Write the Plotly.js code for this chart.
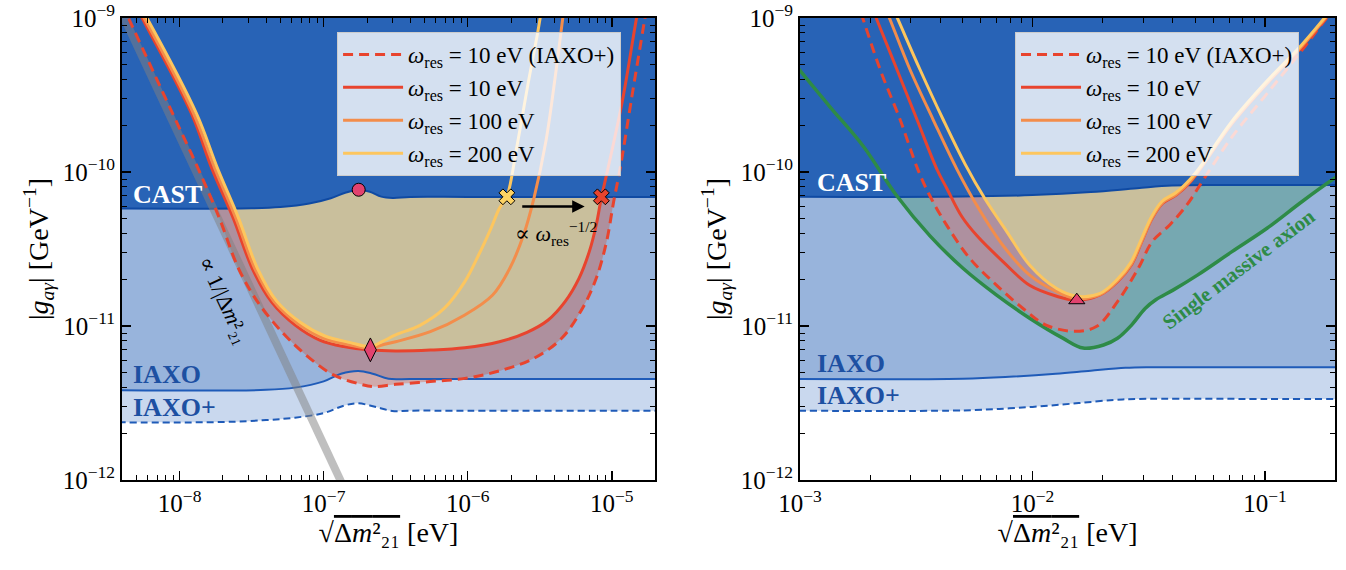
<!DOCTYPE html>
<html><head><meta charset="utf-8">
<script src="https://cdn.plot.ly/plotly-3.0.1.min.js"></script>
<style>html,body{margin:0;padding:0;background:#fff}</style>
</head><body>
<div id="chart" style="width:1346px;height:570px"></div>
<script>
// ---------------- LEFT PANEL DATA ----------------
const castL_x = [3.16e-9, 3.16e-8, 5.01e-8, 7.94e-8, 1.12e-7, 1.41e-7, 1.74e-7, 2.09e-7, 2.51e-7, 3.02e-7, 3.98e-7, 1.0e-6, 1.0e-5, 2.51e-5];
const castL_g = [5.79e-11, 5.81e-11, 5.92e-11, 6.24e-11, 6.76e-11, 7.33e-11, 7.67e-11, 7.45e-11, 6.92e-11, 6.79e-11, 6.89e-11, 6.89e-11, 6.89e-11, 6.89e-11];
const iaxoL_x = [3.16e-9, 3.98e-8, 6.31e-8, 1.0e-7, 1.32e-7, 1.74e-7, 2.19e-7, 2.82e-7, 3.98e-7, 1.0e-6, 1.0e-5, 2.51e-5];
const iaxoL_g = [3.84e-12, 3.85e-12, 3.98e-12, 4.37e-12, 4.90e-12, 5.11e-12, 4.90e-12, 4.54e-12, 4.53e-12, 4.53e-12, 4.53e-12, 4.53e-12];
const iaxoPL_x = [3.16e-9, 2.0e-8, 3.98e-8, 6.31e-8, 1.0e-7, 1.38e-7, 1.72e-7, 2.27e-7, 2.99e-7, 3.98e-7, 1.0e-6, 1.0e-5, 2.51e-5];
const iaxoPL_g = [2.37e-12, 2.38e-12, 2.45e-12, 2.54e-12, 2.72e-12, 3.04e-12, 3.15e-12, 2.99e-12, 2.81e-12, 2.82e-12, 2.82e-12, 2.82e-12, 2.82e-12];

const dashL_x = [3.98e-9, 4.49e-9, 8.95e-9, 1.34e-8, 1.89e-8, 2.56e-8, 3.47e-8, 5.11e-8, 7.52e-8, 1.17e-7, 1.82e-7, 2.21e-7, 3.16e-7, 5.50e-7, 9.55e-7, 1.66e-6, 2.88e-6, 4.49e-6, 6.25e-6, 7.80e-6, 9.20e-6, 1.03e-5, 1.14e-5, 1.38e-5, 1.67e-5, 1.84e-5];
const dashL_g = [1.23e-9, 9.66e-10, 2.39e-10, 1.06e-10, 5.00e-11, 2.37e-11, 1.44e-11, 9.18e-12, 6.49e-12, 4.81e-12, 4.18e-12, 4.04e-12, 4.18e-12, 4.36e-12, 4.57e-12, 5.11e-12, 6.17e-12, 8.32e-12, 1.30e-11, 2.04e-11, 3.53e-11, 6.41e-11, 1.04e-10, 3.10e-10, 9.06e-10, 1.52e-9];

const redL_x = [5.01e-9, 5.60e-9, 1.21e-8, 1.67e-8, 2.36e-8, 3.19e-8, 4.33e-8, 6.37e-8, 9.38e-8, 1.38e-7, 2.11e-7, 3.16e-7, 5.50e-7, 9.55e-7, 1.66e-6, 2.58e-6, 3.60e-6, 4.74e-6, 5.92e-6, 6.98e-6, 7.80e-6, 8.47e-6, 9.38e-6, 1.19e-5, 1.47e-5, 1.59e-5];
const redL_g = [1.18e-9, 9.66e-10, 2.39e-10, 1.06e-10, 5.00e-11, 2.37e-11, 1.44e-11, 1.01e-11, 8.11e-12, 7.35e-12, 6.98e-12, 6.89e-12, 6.98e-12, 7.23e-12, 7.91e-12, 9.10e-12, 1.09e-11, 1.44e-11, 2.04e-11, 3.04e-11, 4.53e-11, 6.82e-11, 1.04e-10, 2.96e-10, 9.46e-10, 1.41e-9];

const orangeL_x = [5.13e-9, 5.78e-9, 1.25e-8, 1.75e-8, 2.46e-8, 3.32e-8, 4.52e-8, 6.65e-8, 9.79e-8, 1.44e-7, 2.11e-7, 2.54e-7, 3.16e-7, 5.50e-7, 9.55e-7, 1.49e-6, 1.96e-6, 2.44e-6, 2.88e-6, 3.50e-6, 4.02e-6, 4.61e-6];
const orangeL_g = [1.17e-9, 9.66e-10, 2.39e-10, 1.06e-10, 5.00e-11, 2.37e-11, 1.44e-11, 1.03e-11, 8.39e-12, 7.60e-12, 7.16e-12, 7.53e-12, 7.91e-12, 9.18e-12, 1.18e-11, 1.59e-11, 2.37e-11, 3.90e-11, 6.75e-11, 1.61e-10, 3.94e-10, 1.07e-9];

const yellowL_x = [5.37e-9, 6.05e-9, 1.31e-8, 1.83e-8, 2.57e-8, 3.47e-8, 4.72e-8, 6.95e-8, 1.02e-7, 1.51e-7, 2.11e-7, 2.54e-7, 3.16e-7, 4.66e-7, 6.86e-7, 9.55e-7, 1.19e-6, 1.45e-6, 1.66e-6, 1.87e-6, 2.19e-6, 2.65e-6, 3.05e-6, 3.22e-6];
const yellowL_g = [1.17e-9, 9.66e-10, 2.39e-10, 1.06e-10, 5.00e-11, 2.37e-11, 1.45e-11, 1.05e-11, 8.61e-12, 7.83e-12, 7.35e-12, 7.91e-12, 8.75e-12, 1.01e-11, 1.30e-11, 1.94e-11, 2.89e-11, 4.31e-11, 5.81e-11, 6.92e-11, 1.45e-10, 3.94e-10, 7.91e-10, 1.07e-9];

const grayL_x = [3.5e-9, 2.0e-7];
const grayL_g = [1.39e-9, 4.25e-13];

const circleL = {x: [1.75e-7], g: [7.67e-11]};
const diamondL = {x: [2.11e-7], g: [7.0e-12]};
const xYellowL = {x: [1.87e-6], g: [6.9e-11]};
const xRedL = {x: [8.47e-6], g: [6.9e-11]};

// ---------------- RIGHT PANEL DATA ----------------
const castR_x = [7.94e-4, 5.01e-3, 1.0e-2, 1.78e-2, 2.82e-2, 3.98e-2, 6.31e-2, 1.0e-1, 2.51e-1];
const castR_g = [6.92e-11, 6.92e-11, 7.08e-11, 7.41e-11, 7.85e-11, 8.17e-11, 8.24e-11, 8.24e-11, 8.24e-11];
const iaxoR_x = [7.94e-4, 5.01e-3, 7.94e-3, 1.26e-2, 1.78e-2, 2.51e-2, 3.16e-2, 1.0e-1, 2.51e-1];
const iaxoR_g = [4.53e-12, 4.55e-12, 4.68e-12, 4.90e-12, 5.13e-12, 5.35e-12, 5.40e-12, 5.40e-12, 5.40e-12];
const iaxoPR_x = [7.94e-4, 5.01e-3, 7.94e-3, 1.12e-2, 1.58e-2, 2.24e-2, 2.82e-2, 1.0e-1, 2.51e-1];
const iaxoPR_g = [2.82e-12, 2.83e-12, 2.92e-12, 3.02e-12, 3.16e-12, 3.31e-12, 3.36e-12, 3.36e-12, 3.36e-12];

const greenR_x = [8.91e-4, 9.84e-4, 1.35e-3, 1.87e-3, 2.61e-3, 3.62e-3, 5.02e-3, 7.03e-3, 9.75e-3, 1.35e-2, 1.65e-2, 2.02e-2, 2.32e-2, 2.66e-2, 3.05e-2, 3.39e-2, 4.02e-2, 5.12e-2, 7.21e-2, 1.02e-1, 1.44e-1, 1.99e-1, 2.24e-1];
const greenR_g = [5.69e-10, 4.69e-10, 2.63e-10, 1.47e-10, 6.98e-11, 3.85e-11, 2.37e-11, 1.58e-11, 1.12e-11, 8.34e-12, 7.19e-12, 7.53e-12, 8.32e-12, 1.01e-11, 1.30e-11, 1.48e-11, 1.71e-11, 2.14e-11, 3.04e-11, 4.31e-11, 6.41e-11, 9.10e-11, 1.02e-10];

const dashR_x = [1.74e-3, 1.87e-3, 2.21e-3, 2.69e-3, 3.21e-3, 3.62e-3, 4.29e-3, 5.38e-3, 7.03e-3, 9.10e-3, 1.15e-2, 1.52e-2, 1.89e-2, 2.32e-2, 2.85e-2, 3.27e-2, 3.89e-2, 4.61e-2, 5.48e-2, 7.21e-2, 1.02e-1, 1.44e-1, 1.76e-1, 1.91e-1];
const dashR_g = [1.35e-9, 9.75e-10, 4.63e-10, 2.20e-10, 1.04e-10, 6.98e-11, 4.47e-11, 2.74e-11, 1.83e-11, 1.30e-11, 1.01e-11, 9.24e-12, 9.95e-12, 1.44e-11, 2.37e-11, 3.53e-11, 4.53e-11, 6.11e-11, 9.10e-11, 1.69e-10, 3.23e-10, 6.17e-10, 9.18e-10, 1.07e-9];

const redR_x = [2.0e-3, 2.14e-3, 2.61e-3, 3.18e-3, 3.88e-3, 4.29e-3, 4.97e-3, 5.77e-3, 7.46e-3, 9.75e-3, 1.27e-2, 1.55e-2, 1.95e-2, 2.32e-2, 2.66e-2, 2.95e-2, 3.27e-2, 3.63e-2, 4.16e-2, 4.78e-2, 5.30e-2, 7.21e-2, 1.02e-1, 1.44e-1, 1.82e-1, 1.95e-1];
const redR_g = [1.26e-9, 9.75e-10, 4.63e-10, 2.20e-10, 1.04e-10, 7.76e-11, 5.12e-11, 3.85e-11, 2.62e-11, 1.83e-11, 1.56e-11, 1.47e-11, 1.59e-11, 1.94e-11, 2.49e-11, 3.53e-11, 5.00e-11, 6.27e-11, 7.10e-11, 8.65e-11, 1.06e-10, 2.06e-10, 3.75e-10, 6.49e-10, 9.91e-10, 1.12e-9];

const orangeR_x = [2.3e-3, 2.44e-3, 2.97e-3, 3.73e-3, 4.73e-3, 5.77e-3, 7.46e-3, 9.75e-3, 1.27e-2, 1.55e-2, 1.95e-2, 2.32e-2, 2.66e-2, 2.95e-2, 3.27e-2, 3.63e-2, 4.16e-2, 4.78e-2, 5.30e-2, 7.21e-2, 1.02e-1, 1.44e-1, 1.82e-1, 1.95e-1];
const orangeR_g = [1.21e-9, 9.75e-10, 4.63e-10, 2.20e-10, 1.04e-10, 6.03e-11, 3.33e-11, 2.13e-11, 1.67e-11, 1.51e-11, 1.60e-11, 1.96e-11, 2.52e-11, 3.56e-11, 5.05e-11, 6.33e-11, 7.17e-11, 8.73e-11, 1.07e-10, 2.08e-10, 3.79e-10, 6.55e-10, 1.0e-9, 1.13e-9];

const yellowR_x = [2.5e-3, 2.64e-3, 3.28e-3, 4.12e-3, 5.12e-3, 6.24e-3, 7.76e-3, 9.75e-3, 1.27e-2, 1.55e-2, 1.94e-2, 2.31e-2, 2.64e-2, 2.93e-2, 3.25e-2, 3.61e-2, 4.13e-2, 4.74e-2, 5.26e-2, 7.16e-2, 1.01e-1, 1.43e-1, 1.81e-1, 1.94e-1];
const yellowR_g = [1.17e-9, 9.75e-10, 4.63e-10, 2.20e-10, 1.13e-10, 6.70e-11, 4.09e-11, 2.47e-11, 1.75e-11, 1.56e-11, 1.62e-11, 2.0e-11, 2.57e-11, 3.63e-11, 5.13e-11, 6.46e-11, 7.33e-11, 8.91e-11, 1.08e-10, 2.11e-10, 3.84e-10, 6.64e-10, 1.01e-9, 1.15e-9];

const triangleR = {x: [1.55e-2], g: [1.47e-11]};

const legendNames = [
  '<i>ω</i><sub>res</sub> = 10 eV (IAXO+)',
  '<i>ω</i><sub>res</sub> = 10 eV',
  '<i>ω</i><sub>res</sub> = 100 eV',
  '<i>ω</i><sub>res</sub> = 200 eV'
];

// tick values (decades) and their labels
const yTickVals = [1e-12, 1e-11, 1e-10, 1e-9];
const yTickText = ['10<sup>−12</sup>', '10<sup>−11</sup>', '10<sup>−10</sup>', '10<sup>−9</sup>'];
const xTickValsL = [1e-8, 1e-7, 1e-6, 1e-5];
const xTickTextL = ['10<sup>−8</sup>', '10<sup>−7</sup>', '10<sup>−6</sup>', '10<sup>−5</sup>'];
const xTickValsR = [1e-3, 1e-2, 1e-1];
const xTickTextR = ['10<sup>−3</sup>', '10<sup>−2</sup>', '10<sup>−1</sup>'];
const minorDigits = [2, 3, 4, 5, 6, 7, 8, 9];
function minorTicks(decades) {
  const out = [];
  decades.forEach(d => minorDigits.forEach(k => out.push(k * d)));
  return out;
}

// ---------------- STYLE ----------------
const FONT = '"Liberation Serif", "DejaVu Serif", serif';
const C_DARK = '#2863b6', C_MID = '#98b4dc', C_LIGHT = '#c9d8ee';
const C_TAN = '#c9bf9c', C_PINK_A = 'rgba(225,62,17,0.3)', C_PINK = '#ae909f', C_TEAL = '#76a8b1';
const RED = '#e8442e', ORANGE = '#f38d4b', YELLOW = '#fdc65e', GREEN = '#2e8b47';
const LBLUE = '#1f5bb8', CASTLINE = '#0f4aa3';
const TOP = 1e-8;

function band(xs, ys, xNear, xFar) {
  const n = ys.length;
  return {x: [xNear].concat(xs, [xFar, xFar, xNear]), y: [ys[0]].concat(ys, [ys[n-1], TOP, TOP])};
}
function ucurve(xs, ys) {
  const n = xs.length;
  return {x: xs.concat([xs[n-1], xs[0]]), y: ys.concat([TOP, TOP])};
}
function fillTrace(p, color, ax) {
  return {x: p.x, y: p.y, xaxis: ax[0], yaxis: ax[1], mode: 'lines', fill: 'toself', fillcolor: color,
          line: {width: 0, shape: 'spline', smoothing: 1}, hoverinfo: 'skip', showlegend: false};
}
function lineTrace(xs, ys, color, width, dash, ax, extra) {
  return Object.assign({x: xs, y: ys, xaxis: ax[0], yaxis: ax[1], mode: 'lines',
          line: {color: color, width: width, dash: dash || 'solid', shape: 'spline', smoothing: 1},
          hoverinfo: 'skip', showlegend: false}, extra || {});
}
function markerTrace(p, symbol, size, color, ax) {
  return {x: p.x, y: p.g, xaxis: ax[0], yaxis: ax[1], mode: 'markers', cliponaxis: false,
          marker: {symbol: symbol, size: size, color: color, line: {color: 'black', width: 1}},
          hoverinfo: 'skip', showlegend: false};
}
function leg(i, which) {
  return {name: legendNames[i], showlegend: true, legend: which, legendgroup: which + i};
}

const L = ['x', 'y'], R = ['x2', 'y2'];
const DASH = '10px,6px';
const traces = [];
traces.push(fillTrace(band(iaxoPL_x, iaxoPL_g, 1e-9, 1e-4), C_LIGHT, L));
traces.push(fillTrace(band(iaxoL_x, iaxoL_g, 1e-9, 1e-4), C_MID, L));
traces.push(fillTrace(ucurve(dashL_x, dashL_g), C_PINK_A, L));
traces.push(fillTrace(ucurve(redL_x, redL_g), C_TAN, L));
traces.push(fillTrace(band(castL_x, castL_g, 1e-9, 1e-4), C_DARK, L));
traces.push(lineTrace(iaxoPL_x, iaxoPL_g, LBLUE, 2, '7px,4px', L));
traces.push(lineTrace(iaxoL_x, iaxoL_g, LBLUE, 2, 'solid', L));
traces.push(lineTrace(castL_x, castL_g, CASTLINE, 2, 'solid', L));
traces.push({x: grayL_x, y: grayL_g, xaxis: 'x', yaxis: 'y', mode: 'lines', line: {color: 'rgba(128,128,128,0.5)', width: 8}, hoverinfo: 'skip', showlegend: false});
traces.push(lineTrace(dashL_x, dashL_g, RED, 3, DASH, L, leg(0, 'legend')));
traces.push(lineTrace(redL_x, redL_g, RED, 3, 'solid', L, leg(1, 'legend')));
traces.push(lineTrace(orangeL_x, orangeL_g, ORANGE, 3, 'solid', L, leg(2, 'legend')));
traces.push(lineTrace(yellowL_x, yellowL_g, YELLOW, 3, 'solid', L, leg(3, 'legend')));
traces.push(markerTrace(circleL, 'circle', 13, '#e2426f', L));
traces.push(markerTrace(diamondL, 'diamond-tall', 17, '#e2426f', L));
traces.push(markerTrace(xYellowL, 'x', 14, '#fdd364', L));
traces.push(markerTrace(xRedL, 'x', 14, RED, L));

traces.push(fillTrace(band(iaxoPR_x, iaxoPR_g, 1e-4, 1), C_LIGHT, R));
traces.push(fillTrace(band(iaxoR_x, iaxoR_g, 1e-4, 1), C_MID, R));
traces.push(fillTrace({x: greenR_x.concat([1, 1, greenR_x[0]]), y: greenR_g.concat([greenR_g[greenR_g.length-1], TOP, TOP])}, C_TEAL, R));
traces.push(fillTrace(ucurve(dashR_x, dashR_g), C_PINK, R));
traces.push(fillTrace(ucurve(yellowR_x, yellowR_g), C_TAN, R));
traces.push(fillTrace(band(castR_x, castR_g, 1e-4, 1), C_DARK, R));
traces.push(lineTrace(iaxoPR_x, iaxoPR_g, LBLUE, 2, '7px,4px', R));
traces.push(lineTrace(iaxoR_x, iaxoR_g, LBLUE, 2, 'solid', R));
traces.push(lineTrace(castR_x, castR_g, CASTLINE, 2, 'solid', R));
traces.push(lineTrace(greenR_x, greenR_g, GREEN, 3.5, 'solid', R));
traces.push(lineTrace(dashR_x, dashR_g, RED, 3, DASH, R, leg(0, 'legend2')));
traces.push(lineTrace(redR_x, redR_g, RED, 3, 'solid', R, leg(1, 'legend2')));
traces.push(lineTrace(orangeR_x, orangeR_g, ORANGE, 3, 'solid', R, leg(2, 'legend2')));
traces.push(lineTrace(yellowR_x, yellowR_g, YELLOW, 3, 'solid', R, leg(3, 'legend2')));
traces.push(markerTrace(triangleR, 'triangle-up', 14, '#e2426f', R));

function axis(tv, tt, minorVals, extra) {
  return Object.assign({
    type: 'log', showline: true, linecolor: 'black', linewidth: 2, mirror: 'allticks',
    ticks: 'inside', ticklen: 9, tickwidth: 1.5, tickcolor: 'black',
    tickmode: 'array', tickvals: tv, ticktext: tt,
    showgrid: false, zeroline: false,
    tickfont: {family: FONT, size: 25, color: 'black'},
    minor: {tickmode: 'array', tickvals: minorVals, ticks: 'inside', ticklen: 5, tickwidth: 1, tickcolor: 'black', showgrid: false},
    layer: 'above traces'
  }, extra);
}
const xTitle = '√<span style="text-decoration:overline">Δ<i>m</i>²₂₁</span> [eV]';
const yTitle = '|<i>g</i><sub><i>aγ</i></sub>| [GeV<sup>−1</sup>]';
const titleFont = {family: FONT, size: 28, color: 'black'};

const legendBase = {
  xref: 'paper', yref: 'paper', xanchor: 'left', yanchor: 'top', y: 0.9697,
  bgcolor: 'rgba(255,255,255,0.8)', bordercolor: '#cccccc', borderwidth: 1,
  font: {family: FONT, size: 23, color: 'black'}, tracegroupgap: 0, itemwidth: 60
};

const txt = (t, xr, yr, x, y, size, color, extra) => Object.assign({
  text: t, xref: xr, yref: yr, x: x, y: y, showarrow: false, xanchor: 'left', yanchor: 'middle',
  font: {family: FONT, size: size, color: color}}, extra || {});

const yMinor = minorTicks([1e-12, 1e-11, 1e-10]);
const layout = {
  width: 1346, height: 570,
  margin: {l: 122, r: 11, t: 18, b: 90},
  paper_bgcolor: 'white', plot_bgcolor: 'white',
  xaxis: axis(xTickValsL, xTickTextL, minorTicks([1e-9, 1e-8, 1e-7, 1e-6, 1e-5]),
          {domain: [0, 0.4394], range: [-8.40, -4.70], anchor: 'y', title: {text: xTitle, font: titleFont, standoff: 6}}),
  yaxis: axis(yTickVals, yTickText, yMinor,
          {range: [-12, -9], anchor: 'x', title: {text: yTitle, font: titleFont, standoff: 6}}),
  xaxis2: axis(xTickValsR, xTickTextR, minorTicks([1e-3, 1e-2, 1e-1]),
          {domain: [0.559, 1], range: [-3, -0.699], anchor: 'y2', title: {text: xTitle, font: titleFont, standoff: 6}}),
  yaxis2: axis(yTickVals, yTickText, yMinor,
          {range: [-12, -9], anchor: 'x2', title: {text: yTitle, font: titleFont, standoff: 6}}),
  legend: Object.assign({}, legendBase, {x: 0.1773}),
  legend2: Object.assign({}, legendBase, {x: 0.7362}),
  annotations: [
    txt('<b>CAST</b>', 'x domain', 'y domain', 0.017, 0.617, 26, 'white'),
    txt('<b>IAXO</b>', 'x domain', 'y domain', 0.017, 0.229, 26, '#1d50a2'),
    txt('<b>IAXO+</b>', 'x domain', 'y domain', 0.017, 0.156, 26, '#1d50a2'),
    txt('<b>CAST</b>', 'x2 domain', 'y2 domain', 0.028, 0.643, 26, 'white'),
    txt('<b>IAXO</b>', 'x2 domain', 'y2 domain', 0.028, 0.253, 26, '#1d50a2'),
    txt('<b>IAXO+</b>', 'x2 domain', 'y2 domain', 0.028, 0.182, 26, '#1d50a2'),
    txt('∝ 1/|Δ<i>m</i>²₂₁', 'x', 'y', -7.684, -10.832, 22, 'black',
        {xanchor: 'center', textangle: 65}),
    {x: -5.188, y: -10.224, ax: -5.632, ay: -10.224, xref: 'x', yref: 'y', axref: 'x', ayref: 'y',
     showarrow: true, arrowhead: 2, arrowsize: 1, arrowwidth: 2.5, arrowcolor: 'black', text: ''},
    txt('∝ <i>ω</i><sub>res</sub><sup>−1/2</sup>', 'x', 'y', -5.389, -10.401, 22, 'black', {xanchor: 'center'}),
    txt('<b>Single massive axion</b>', 'x2', 'y2', -1.113, -10.627, 21, GREEN, {xanchor: 'center', textangle: -37})
  ]
};

Plotly.newPlot('chart', traces, layout, {displayModeBar: false, staticPlot: true});
</script>
</body></html>
